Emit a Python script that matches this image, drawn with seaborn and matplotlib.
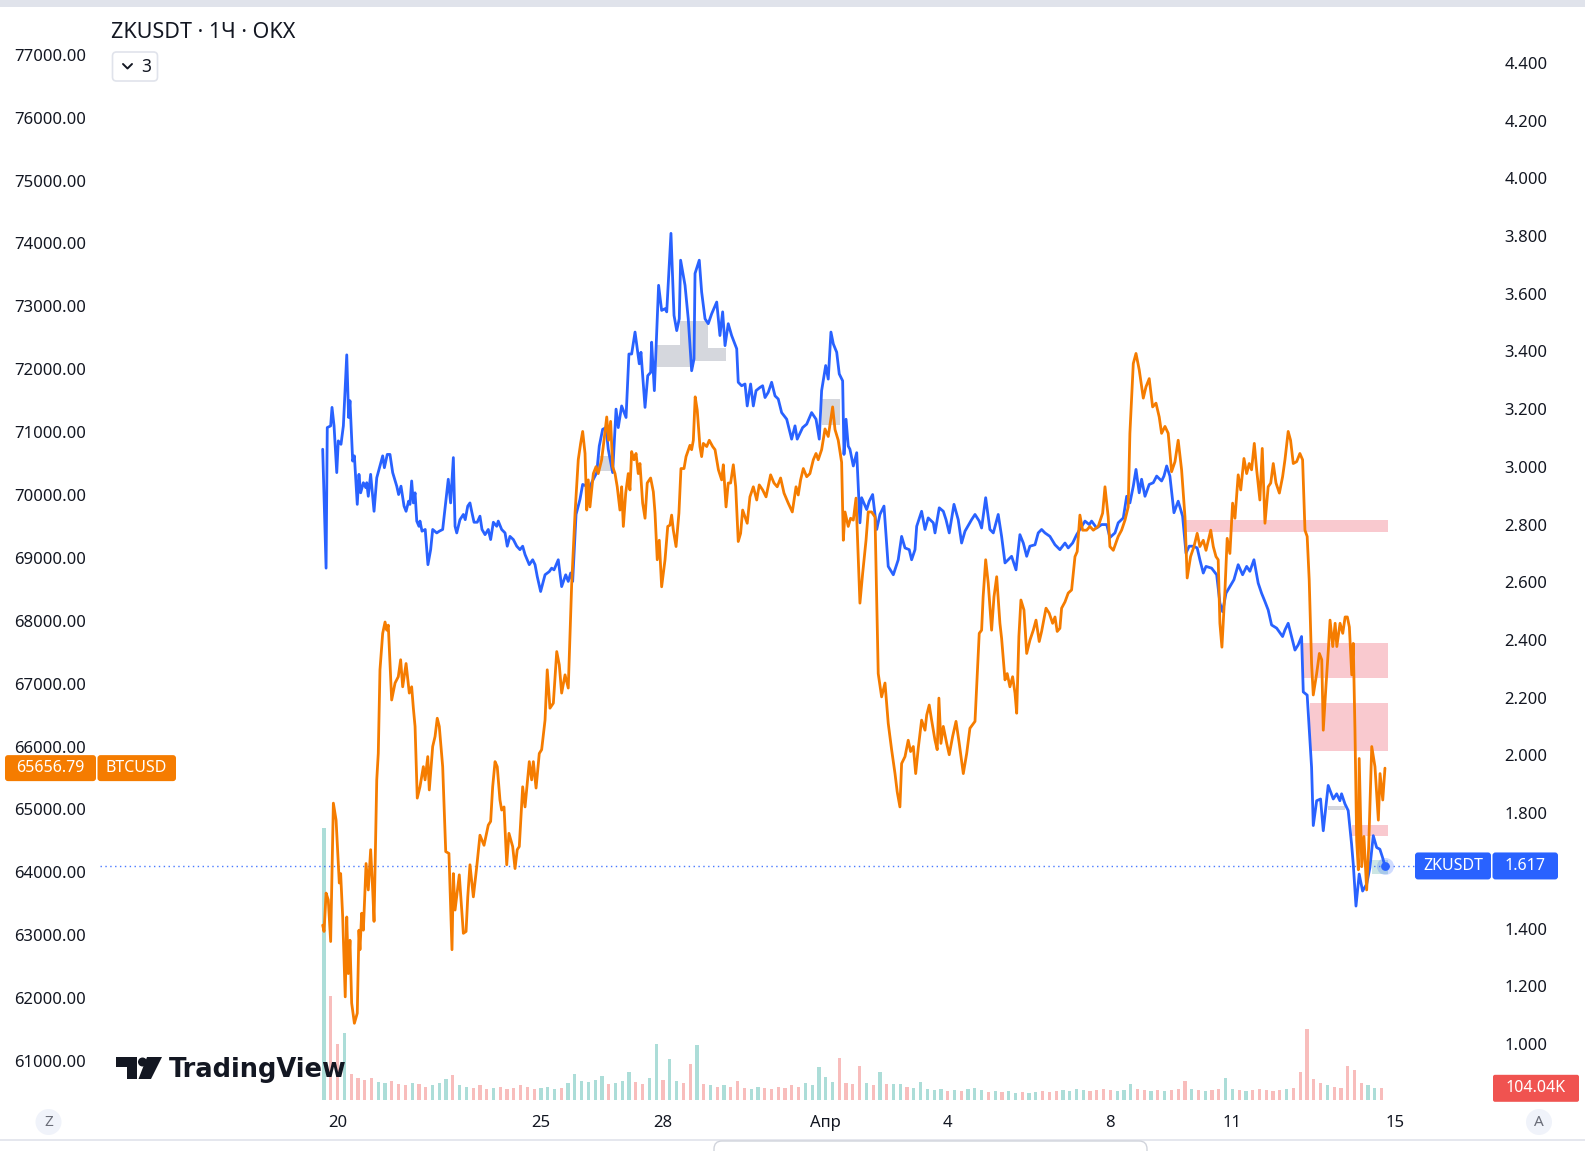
import numpy as np
import pandas as pd
import matplotlib
matplotlib.use("Agg")
import matplotlib.pyplot as plt
import seaborn as sns
from matplotlib.patches import Rectangle, FancyBboxPatch, Circle, Polygon
from matplotlib.lines import Line2D
from matplotlib.transforms import IdentityTransform

# ---------------- DATA (hours since 2024-03-20 00:00) ----------------
zk_hours = [
    -8.8, -6.8, -6.1, -4.1, -3.3, -2.1, -0.5, 0.4, 2.0, 3.4,
    5.4, 6.5, 7.3, 8.9, 9.9, 11.6, 12.6, 13.6, 15.2, 16.6,
    17.2, 18.1, 19.5, 21.5, 23.1, 25.0, 26.6, 27.6, 29.3, 30.9,
    32.5, 34.9, 36.0, 37.4, 39.2, 40.4, 41.9, 42.7, 43.7, 44.7,
    45.7, 46.7, 48.0, 48.6, 49.8, 51.7, 53.3, 54.9, 56.1, 58.5,
    60.0, 62.0, 63.4, 65.3, 66.7, 68.3, 69.3, 70.3, 72.2, 74.2,
    75.3, 76.8, 78.1, 79.1, 80.5, 82.4, 84.0, 85.2, 87.0, 88.9,
    90.3, 91.9, 93.9, 94.8, 96.8, 98.8, 100.1, 101.7, 103.7, 105.7,
    107.6, 109.2, 110.6, 113.1, 115.1, 116.5, 117.8, 119.8, 122.4, 124.9,
    126.3, 127.7, 130.2, 132.2, 134.6, 136.1, 137.5, 138.7, 140.7, 143.0,
    144.6, 147.0, 147.9, 149.9, 152.9, 154.4, 156.4, 158.4, 159.7, 162.3,
    164.3, 165.6, 167.6, 170.2, 171.9, 173.5, 175.5, 178.0, 179.0, 181.4,
    183.0, 184.7, 185.3, 186.9, 189.4, 191.2, 193.2, 194.2, 196.7, 198.5,
    200.1, 201.6, 202.4, 205.0, 206.9, 208.9, 210.3, 210.9, 213.4, 214.8,
    216.8, 218.7, 220.7, 223.7, 225.6, 227.2, 228.6, 230.5, 232.5, 235.5,
    236.4, 238.4, 240.4, 241.7, 243.7, 245.3, 246.9, 249.2, 250.8, 252.2,
    254.1, 256.1, 258.1, 260.0, 262.0, 265.0, 267.9, 269.9, 271.2, 274.4,
    276.8, 279.7, 282.3, 284.2, 285.6, 288.0, 289.5, 291.1, 292.5, 294.5,
    296.0, 298.0, 298.8, 300.0, 301.3, 302.3, 304.3, 306.3, 308.2, 309.2,
    312.2, 313.7, 315.7, 318.1, 320.0, 322.4, 324.9, 327.9, 330.8, 332.8,
    334.8, 337.3, 338.7, 340.7, 341.7, 344.6, 346.6, 348.5, 351.5, 352.5,
    355.0, 357.4, 359.0, 360.9, 363.7, 366.2, 368.2, 370.2, 374.1, 376.1,
    378.6, 380.0, 382.4, 384.9, 386.9, 389.8, 391.8, 393.8, 395.7, 397.7,
    400.3, 402.6, 404.6, 406.6, 408.5, 411.5, 413.4, 415.4, 417.4, 420.3,
    423.3, 426.2, 429.2, 431.1, 433.7, 436.1, 438.0, 441.0, 443.5, 444.9,
    447.9, 450.8, 453.8, 455.7, 458.7, 460.6, 463.6, 465.6, 467.5, 469.5,
    471.1, 473.0, 474.4, 476.4, 478.9, 481.3, 483.3, 486.2, 487.6, 489.2,
    491.1, 493.5, 496.0, 498.6, 500.6, 502.5, 504.9, 507.2, 508.8, 510.8,
    512.4, 515.7, 518.7, 520.6, 522.2, 524.2, 526.5, 528.9, 531.4, 534.0,
    536.4, 538.3, 540.7, 543.2, 545.2, 547.2, 549.1, 551.1, 554.1, 557.6,
    559.0, 560.9, 562.9, 564.9, 566.8, 568.8, 569.8, 572.1, 574.7, 575.7,
    577.7, 580.0, 581.6, 584.5, 587.5, 589.5, 591.4, 592.4, 594.4, 596.3,
    598.3, 599.3, 600.9, 602.8, 604.8, 607.2, 609.1, 611.1, 613.1, 615.0,
    616.6, 618.0]
zk_price = [
    3.061, 2.649, 3.136, 3.142, 3.206, 3.142, 2.980, 3.090, 3.078, 3.142,
    3.388, 3.171, 3.229, 3.020, 3.038, 2.870, 2.974, 2.910, 2.945, 2.928,
    2.945, 2.898, 2.974, 2.846, 2.962, 3.003, 3.038, 2.997, 3.043, 3.043,
    2.980, 2.933, 2.904, 2.933, 2.864, 2.846, 2.881, 2.870, 2.951, 2.875,
    2.910, 2.812, 2.794, 2.812, 2.777, 2.783, 2.661, 2.713, 2.783, 2.771,
    2.777, 2.783, 2.858, 2.957, 2.875, 3.032, 2.794, 2.771, 2.817, 2.835,
    2.817, 2.864, 2.875, 2.846, 2.808, 2.808, 2.829, 2.783, 2.765, 2.783,
    2.748, 2.808, 2.794, 2.812, 2.783, 2.771, 2.725, 2.759, 2.748, 2.725,
    2.713, 2.725, 2.696, 2.661, 2.678, 2.661, 2.620, 2.568, 2.626, 2.637,
    2.649, 2.643, 2.678, 2.585, 2.626, 2.603, 2.632, 2.603, 2.835, 2.887,
    2.939, 2.933, 2.904, 2.945, 2.980, 3.072, 3.130, 3.136, 3.061, 2.980,
    3.200, 3.136, 3.211, 3.171, 3.391, 3.391, 3.467, 3.357, 3.397, 3.206,
    3.316, 3.327, 3.432, 3.264, 3.629, 3.542, 3.548, 3.537, 3.809, 3.525,
    3.472, 3.513, 3.716, 3.629, 3.513, 3.333, 3.374, 3.670, 3.716, 3.606,
    3.513, 3.496, 3.530, 3.571, 3.455, 3.537, 3.420, 3.496, 3.455, 3.409,
    3.293, 3.281, 3.287, 3.211, 3.287, 3.211, 3.264, 3.275, 3.281, 3.240,
    3.258, 3.293, 3.246, 3.235, 3.188, 3.165, 3.096, 3.142, 3.096, 3.136,
    3.148, 3.188, 3.165, 3.096, 3.264, 3.351, 3.304, 3.467, 3.426, 3.397,
    3.322, 3.298, 3.043, 3.165, 3.072, 3.061, 3.003, 3.049, 2.806, 2.893,
    2.852, 2.881, 2.904, 2.783, 2.835, 2.864, 2.655, 2.626, 2.678, 2.759,
    2.719, 2.713, 2.678, 2.713, 2.794, 2.846, 2.783, 2.823, 2.806, 2.771,
    2.858, 2.846, 2.817, 2.771, 2.870, 2.817, 2.736, 2.777, 2.817, 2.835,
    2.812, 2.788, 2.893, 2.783, 2.771, 2.835, 2.759, 2.667, 2.678, 2.690,
    2.643, 2.765, 2.736, 2.690, 2.725, 2.730, 2.771, 2.783, 2.771, 2.759,
    2.730, 2.713, 2.736, 2.719, 2.736, 2.765, 2.783, 2.812, 2.800, 2.812,
    2.788, 2.800, 2.800, 2.755, 2.771, 2.806, 2.823, 2.898, 2.875, 2.933,
    2.991, 2.910, 2.957, 2.898, 2.939, 2.945, 2.968, 2.951, 2.968, 3.003,
    2.968, 2.841, 2.881, 2.829, 2.701, 2.725, 2.725, 2.719, 2.678, 2.632,
    2.655, 2.649, 2.626, 2.528, 2.498, 2.562, 2.585, 2.609, 2.661, 2.626,
    2.655, 2.638, 2.678, 2.597, 2.562, 2.533, 2.504, 2.452, 2.441, 2.412,
    2.435, 2.458, 2.412, 2.365, 2.383, 2.412, 2.220, 2.209, 1.959, 1.757,
    1.843, 1.849, 1.739, 1.896, 1.849, 1.867, 1.843, 1.867, 1.832, 1.809,
    1.693, 1.623, 1.478, 1.589, 1.530, 1.554, 1.611, 1.722, 1.681, 1.675,
    1.646, 1.617]

btc_hours = [
    -8.8, -8.0, -6.8, -5.5, -4.1, -2.5, -0.9, 1.0, 1.8, 3.0,
    4.5, 5.4, 6.3, 7.3, 8.3, 9.9, 11.6, 12.6, 13.2, 14.2,
    15.2, 16.8, 18.1, 19.5, 20.7, 21.5, 23.1, 24.0, 25.0, 26.6,
    28.0, 29.0, 29.9, 31.9, 33.9, 35.8, 37.2, 38.4, 40.4, 42.3,
    43.7, 44.7, 45.7, 47.0, 48.6, 50.6, 51.6, 53.2, 54.1, 56.1,
    57.5, 58.8, 60.0, 62.0, 63.8, 65.7, 67.5, 68.3, 69.3, 71.8,
    74.2, 75.8, 76.8, 78.1, 80.1, 82.1, 84.0, 86.4, 88.9, 90.3,
    91.5, 92.9, 94.2, 95.8, 96.8, 98.2, 99.8, 101.1, 103.3, 104.7,
    106.0, 107.2, 109.2, 110.6, 113.1, 114.5, 115.5, 117.1, 119.0, 120.4,
    122.4, 123.7, 125.3, 127.3, 129.3, 130.8, 132.2, 134.2, 136.1, 138.1,
    140.1, 142.0, 143.4, 144.6, 146.0, 147.0, 147.9, 148.9, 150.9, 152.5,
    153.8, 155.8, 157.2, 158.8, 159.9, 161.1, 162.3, 163.7, 165.0, 166.6,
    167.6, 168.6, 170.0, 171.5, 172.5, 173.5, 174.9, 176.1, 177.4, 178.4,
    180.0, 181.4, 182.7, 184.7, 186.3, 187.3, 188.6, 189.8, 191.2, 193.2,
    194.8, 196.1, 197.1, 198.1, 199.7, 201.4, 202.6, 204.4, 205.6, 207.9,
    208.9, 209.9, 211.0, 212.2, 213.8, 214.8, 215.8, 217.8, 219.3, 221.3,
    222.7, 224.7, 226.6, 227.6, 229.2, 230.5, 231.9, 233.5, 234.9, 236.4,
    237.8, 239.0, 240.4, 241.7, 243.3, 245.3, 247.3, 248.8, 250.8, 252.8,
    255.5, 257.5, 259.4, 261.4, 263.4, 265.9, 268.3, 270.5, 271.8, 273.2,
    274.8, 276.8, 278.7, 280.7, 282.3, 283.6, 285.6, 287.6, 289.5, 292.1,
    293.5, 295.4, 297.4, 298.4, 299.4, 301.3, 302.7, 304.3, 305.9, 308.2,
    309.8, 311.8, 313.1, 315.1, 317.1, 319.0, 321.0, 323.0, 324.9, 326.9,
    328.9, 330.2, 331.8, 332.8, 334.8, 336.7, 338.1, 339.7, 341.1, 342.6,
    344.6, 346.6, 347.6, 349.1, 350.5, 352.5, 353.8, 354.8, 356.0, 357.4,
    359.4, 360.9, 362.9, 364.9, 366.8, 369.2, 371.2, 373.1, 376.1, 378.6,
    380.0, 380.9, 382.4, 383.9, 385.9, 387.3, 388.9, 390.8, 391.8, 393.8,
    395.1, 396.7, 398.3, 399.7, 400.7, 402.0, 403.2, 405.0, 406.6, 408.5,
    410.5, 412.1, 414.0, 415.4, 418.0, 419.9, 421.9, 423.3, 424.6, 426.2,
    427.2, 429.2, 431.1, 433.1, 435.1, 436.4, 438.0, 439.6, 442.0, 443.9,
    445.9, 448.8, 451.4, 452.8, 454.7, 455.7, 457.7, 460.6, 462.6, 464.6,
    466.5, 467.5, 469.5, 471.1, 473.0, 475.4, 477.0, 478.9, 480.9, 482.9,
    484.8, 486.2, 488.2, 490.1, 492.1, 494.1, 496.0, 498.0, 500.0, 501.3,
    503.3, 505.3, 507.2, 508.8, 510.8, 512.4, 515.2, 516.7, 518.3, 519.6,
    520.6, 521.8, 523.6, 524.9, 526.5, 528.1, 529.5, 531.4, 532.9, 534.8,
    536.4, 537.9, 539.3, 540.9, 542.3, 544.2, 545.6, 547.2, 549.1, 550.6,
    552.1, 553.7, 555.7, 557.6, 559.0, 560.9, 562.3, 563.9, 565.9, 567.8,
    569.4, 570.8, 572.1, 573.3, 574.7, 575.7, 577.7, 579.3, 580.7, 581.6,
    583.3, 584.6, 585.6, 587.2, 588.6, 589.6, 591.5, 593.1, 594.5, 595.8,
    597.0, 598.4, 599.3, 600.3, 601.3, 602.3, 602.8, 604.3, 605.6, 607.2,
    608.4, 610.2, 612.1, 614.1, 615.1, 616.7, 618.0]
btc_price = [
    63160, 63060, 63670, 63560, 62900, 65100, 64830, 63830, 63980, 63290,
    62020, 63290, 62390, 62920, 61920, 61600, 61760, 63080, 62770, 63350,
    63080, 64140, 63720, 64360, 63720, 63220, 65470, 65890, 67220, 67800,
    67980, 67850, 67930, 66740, 67010, 67110, 67380, 66950, 67320, 66850,
    66950, 66610, 66320, 65180, 65360, 65680, 65470, 65840, 65310, 66000,
    66160, 66450, 66320, 65680, 64330, 64300, 62770, 63980, 63400, 63960,
    63030, 63060, 63610, 64120, 63610, 64090, 64590, 64430, 64750, 64810,
    65360, 65760, 65680, 65150, 64990, 65040, 64120, 64620, 64410, 64060,
    64360, 64410, 65360, 65040, 65760, 65470, 65760, 65340, 65890, 65950,
    66420, 67220, 66610, 66690, 67510, 67300, 66850, 67140, 66930, 68570,
    69710, 70560, 70820, 71010, 70660, 69760, 70240, 69810, 70340, 70450,
    70340, 70560, 70870, 71240, 70870, 71170, 70450, 70340, 70130, 69760,
    70130, 69500, 70030, 70340, 70080, 70690, 70560, 70660, 70340, 70500,
    69870, 69630, 70190, 70270, 70050, 69710, 68970, 69280, 68540, 68970,
    69500, 69520, 69680, 69440, 69180, 69710, 70420, 70420, 70610, 70790,
    70720, 70870, 71560, 71350, 70770, 70610, 70820, 70770, 70870, 70770,
    70720, 70400, 70240, 70480, 69810, 70190, 70190, 70480, 70130, 69260,
    69390, 69760, 69650, 69550, 69970, 70130, 69920, 70160, 70080, 69970,
    70320, 70190, 70130, 70270, 70030, 69870, 69730, 70130, 70000, 70240,
    70420, 70290, 70340, 70560, 70660, 70560, 70720, 71050, 70930, 71400,
    71040, 70870, 70520, 69280, 69730, 69500, 69630, 69600, 69950, 68280,
    68750, 69280, 69730, 69730, 69650, 67160, 66790, 67010, 66370, 65950,
    65570, 65280, 65040, 65730, 65840, 66100, 65920, 66000, 65570, 65970,
    66420, 66260, 66500, 66660, 66420, 66100, 65950, 66770, 66050, 66320,
    66050, 65870, 66160, 66400, 66050, 65570, 65890, 66290, 66400, 67800,
    67850, 68380, 68970, 68600, 67850, 68380, 68700, 67960, 67720, 67060,
    67160, 66950, 67110, 66850, 66530, 67750, 68330, 68170, 67480, 67690,
    67850, 68010, 67670, 67830, 68200, 68120, 67960, 68060, 67830, 67880,
    68200, 68300, 68440, 68490, 69020, 69100, 69680, 69440, 69440, 69500,
    69440, 69500, 69710, 70130, 69650, 69180, 69120, 69340, 69440, 69600,
    69810, 70980, 72090, 72250, 71990, 71540, 71720, 71850, 71400, 71460,
    71240, 70980, 71090, 70980, 70370, 70530, 70870, 70400, 69650, 68680,
    69020, 69180, 69390, 69180, 69280, 69120, 69440, 69180, 69020, 68970,
    67960, 67580, 68490, 69310, 69070, 69870, 69630, 70320, 70080, 70580,
    70340, 70500, 70400, 70820, 70400, 69920, 70740, 69550, 70130, 70190,
    70500, 70190, 70030, 70290, 70560, 71010, 70870, 70500, 70530, 70660,
    70560, 69440, 69340, 68650, 67320, 66820, 67160, 67480, 67380, 66260,
    67010, 67540, 68010, 67590, 67960, 67590, 67960, 67800, 68060, 68060,
    67900, 67140, 67640, 66260, 64510, 64040, 65810, 64090, 64570, 63720,
    64410, 66000, 65680, 64830, 65570, 65150, 65656.79]

# volume (thousands), 4-hour bins starting at hour -8
volume_k = [
    2420, 925,
    500, 600, 230, 200, 180, 200,
    160, 150, 170, 140, 130, 150,
    140, 120, 130, 150, 190, 220,
    130, 120, 110, 130, 100, 110,
    120, 100, 110, 130, 120, 100,
    110, 120, 100, 110, 150, 230,
    170, 160, 180, 215, 140, 150,
    170, 250, 160, 140, 200, 500,
    180, 365, 170, 150, 320, 490,
    140, 130, 120, 130, 120, 170,
    110, 100, 120, 110, 100, 120,
    110, 130, 120, 150, 130, 295,
    205, 160, 375, 150, 140, 300,
    150, 130, 250, 140, 140, 140,
    120, 110, 160, 100, 90, 100,
    80, 90, 80, 100, 110, 90,
    70, 80, 70, 80, 60, 70,
    60, 70, 80, 70, 80, 90,
    80, 100, 90, 80, 90, 100,
    90, 80, 90, 140, 100, 90,
    80, 90, 80, 90, 100, 170,
    100, 90, 80, 90, 100, 195,
    100, 90, 80, 90, 100, 90,
    80, 90, 100, 110, 250, 630,
    190, 150, 130, 120, 110, 300,
    270, 150, 130, 110, 104.04]

# highlighted price zones on the ZKUSDT scale
zone_start = [153.8, 188.4, 202.0, 218.5, 285.6, 500.0, 569.8, 573.7, 584.3, 598.3, 610.1]
zone_end = [161.7, 210.3, 218.5, 229.2, 296.5, 620.0, 620.0, 620.0, 594.4, 620.0, 620.0]
zone_low = [2.985, 3.346, 3.367, 3.367, 3.144, 2.775, 2.270, 2.015, 1.811, 1.722, 1.590]
zone_high = [3.038, 3.423, 3.506, 3.412, 3.235, 2.817, 2.389, 2.180, 1.826, 1.760, 1.638]
zone_kind = ['gray', 'gray', 'gray', 'gray', 'gray', 'pink', 'pink', 'pink', 'gray', 'pink', 'teal']

day_ticks = [0, 120, 192, 288, 360, 456, 528, 624]
day_labels = ['20', '25', '28', 'Апр', '4', '8', '11', '15']
btc_ticks = list(range(61000, 77001, 1000))
zk_ticks = [1.0, 1.2, 1.4, 1.8, 2.0, 2.2, 2.4, 2.6, 2.8, 3.0, 3.2, 3.4, 3.6, 3.8, 4.0, 4.2, 4.4]

# ---------------- STYLE ----------------
sns.set_theme(style="white")
plt.rcParams['font.family'] = ['Noto Sans', 'DejaVu Sans']

BLUE = '#2962ff'
ORANGE = '#f57c00'
TXT = '#131722'
W, H = 1585, 1151
fig = plt.figure(figsize=(W / 100, H / 100), dpi=100)
fig.patch.set_facecolor('white')
L, R, T, B = 100, 1478, 10, 1100
pos = [L / W, 1 - B / H, (R - L) / W, (B - T) / H]
ax_vol = fig.add_axes(pos)
ax_zk = fig.add_axes(pos, sharex=ax_vol)
ax_btc = fig.add_axes(pos, sharex=ax_vol)
for a in (ax_zk, ax_btc):
    a.patch.set_visible(False)
for a in (ax_vol, ax_zk, ax_btc):
    for s in a.spines.values():
        s.set_visible(False)
    a.grid(False)
ax_vol.set_facecolor('white')

# volume bars
vol = np.array(volume_k, dtype=float)
vol_h = -8 + 4 * np.arange(len(vol))
zk_h = np.array(zk_hours)
zk_p = np.array(zk_price)
up = np.interp(vol_h + 2, zk_h, zk_p) >= np.interp(vol_h - 2, zk_h, zk_p)
vcol = np.where(up, '#26a69a', '#ef5350')
ax_vol.bar(vol_h, vol, width=1.9, color=vcol, alpha=0.38, linewidth=0)
ax_vol.set_ylim(0, 9700)
ax_vol.set_yticks([])

# zones
zone_colors = {'gray': '#d5d7dd', 'pink': '#f9c9cf', 'teal': '#cce6e4'}
for s0, s1, lo, hi, k in zip(zone_start, zone_end, zone_low, zone_high, zone_kind):
    ax_zk.add_patch(Rectangle((s0, lo), s1 - s0, hi - lo, facecolor=zone_colors[k],
                              edgecolor='none', zorder=0.5))

zk_df = pd.DataFrame({'hour': zk_h, 'price': zk_p})
btc_df = pd.DataFrame({'hour': btc_hours, 'price': btc_price})
sns.lineplot(data=zk_df, x='hour', y='price', ax=ax_zk, color=BLUE, linewidth=2.0,
             estimator=None, sort=False)
sns.lineplot(data=btc_df, x='hour', y='price', ax=ax_btc, color=ORANGE, linewidth=2.0,
             estimator=None, sort=False)

ax_vol.set_xlim(-140.2, 672.9)
ax_zk.set_ylim(0.806, 4.583)
ax_btc.set_ylim(60380, 77711)

last_zk = zk_p[-1]
last_btc = btc_price[-1]
ax_zk.axhline(last_zk, xmin=0, xmax=(1415 - L) / (R - L), color=BLUE, lw=1.0,
              linestyle=(0, (1, 2.5)), alpha=0.85, zorder=1)
ax_zk.scatter([zk_h[-1]], [last_zk], s=150, color=BLUE, alpha=0.22, zorder=6, linewidths=0)
ax_zk.scatter([zk_h[-1]], [last_zk], s=40, color=BLUE, zorder=7, linewidths=0)

for a in (ax_vol, ax_zk, ax_btc):
    a.set_xlabel('')
    a.set_ylabel('')

ax_vol.set_xticks(day_ticks)
ax_vol.set_xticklabels(day_labels)
ax_vol.tick_params(axis='x', length=0, pad=11, labelsize=12, labelcolor=TXT)
ax_vol.tick_params(axis='y', left=False, labelleft=False)
for a in (ax_zk, ax_btc):
    a.tick_params(axis='x', bottom=False, labelbottom=False)

ax_btc.set_yticks(btc_ticks)
ax_btc.set_yticklabels([f"{v:.2f}" for v in btc_ticks])
ax_btc.tick_params(axis='y', left=True, labelleft=True, right=False, labelright=False,
                   length=0, pad=10, labelsize=12, labelcolor=TXT)

ax_zk.yaxis.tick_right()
ax_zk.set_yticks(zk_ticks)
ax_zk.set_yticklabels([f"{v:.3f}" for v in zk_ticks])
ax_zk.tick_params(axis='y', left=False, labelleft=False, right=True, labelright=True,
                  length=0, pad=19, labelsize=12, labelcolor=TXT)

# ---------------- DECORATIONS (pixel space) ----------------
ID = IdentityTransform()


def rbox(x0, x1, yc, h, color, r=3, ec='none', lw=0, z=20):
    p = FancyBboxPatch((x0, yc - h / 2), x1 - x0, h,
                       boxstyle=f"round,pad=0,rounding_size={r}", transform=ID,
                       facecolor=color, edgecolor=ec, linewidth=lw, zorder=z)
    fig.add_artist(p)


def ftext(x, y, s, **kw):
    kw.setdefault('transform', ID)
    kw.setdefault('zorder', 30)
    fig.text(x, y, s, **kw)


# price labels tied to data
y_zk = ax_zk.transData.transform((0, last_zk))[1]
rbox(1415, 1491, y_zk, 27, BLUE)
rbox(1492.5, 1558, y_zk, 27, BLUE)
ftext(1453, y_zk, 'ZKUSDT', ha='center', va='center', color='white', fontsize=11.5)
ftext(1525, y_zk, f"{last_zk:.3f}", ha='center', va='center', color='white', fontsize=11.5)

y_btc = ax_btc.transData.transform((0, last_btc))[1]
rbox(5, 96, y_btc, 26, ORANGE)
rbox(97.5, 176, y_btc, 26, ORANGE)
ftext(50, y_btc, f"{last_btc:.2f}", ha='center', va='center', color='white', fontsize=11.5)
ftext(136.5, y_btc, 'BTCUSD', ha='center', va='center', color='white', fontsize=11.5)

y_vol = ax_vol.transData.transform((0, vol[-1]))[1]
rbox(1493, 1579, y_vol, 27, '#f05350', r=2)
ftext(1536, y_vol, f"{vol[-1]:.2f}K", ha='center', va='center', color='white', fontsize=11.5)

# top strip & bottom separator
fig.add_artist(Rectangle((0, H - 7), W, 7, transform=ID, facecolor='#e0e3eb', edgecolor='none', zorder=20))
fig.add_artist(Line2D([0, W], [H - 1140, H - 1140], transform=ID, color='#e0e3eb', lw=1.2, zorder=20))
fig.add_artist(FancyBboxPatch((714, -20), 433, 30, boxstyle="round,pad=0,rounding_size=8",
                              transform=ID, facecolor='white', edgecolor='#d1d4dc', lw=1, zorder=21))

# title and button
ftext(111, H - 33, 'ZKUSDT · 1Ч · OKX', ha='left', va='center', color=TXT, fontsize=15.5)
fig.add_artist(FancyBboxPatch((112.5, H - 81), 45, 29, boxstyle="round,pad=0,rounding_size=4",
                              transform=ID, facecolor='white', edgecolor='#e0e3eb', lw=1.2, zorder=20))
fig.add_artist(Line2D([123, 127.5, 132], [H - 64, H - 68.5, H - 64], transform=ID,
                      color=TXT, lw=1.4, zorder=21))
ftext(146.5, H - 66.5, '3', ha='center', va='center', color=TXT, fontsize=12.5)

# scale buttons
for cx, letter in ((48.5, 'Z'), (1539, 'A')):
    fig.add_artist(Circle((cx, H - 1122), 13, transform=ID, facecolor='#f0f3fa',
                          edgecolor='none', zorder=20))
    ftext(cx, H - 1122, letter, ha='center', va='center', color='#6a6d78', fontsize=11)

# TradingView watermark
fig.add_artist(Rectangle((116, H - 1067), 21, 10, transform=ID, facecolor=TXT, edgecolor='none', zorder=22))
fig.add_artist(Rectangle((127, H - 1079), 10, 22, transform=ID, facecolor=TXT, edgecolor='none', zorder=22))
fig.add_artist(Circle((142.5, H - 1062), 4.5, transform=ID, facecolor=TXT, edgecolor='none', zorder=22))
fig.add_artist(Polygon([(147, H - 1057), (162, H - 1057), (151, H - 1079), (138.5, H - 1079)],
                       closed=True, transform=ID, facecolor=TXT, edgecolor='none', zorder=22))
ftext(169, H - 1077, 'TradingView', ha='left', va='baseline', color=TXT,
      fontsize=18.5, fontweight='bold', family=['DejaVu Sans'])

fig.savefig('out.png', dpi=100, facecolor='white')
